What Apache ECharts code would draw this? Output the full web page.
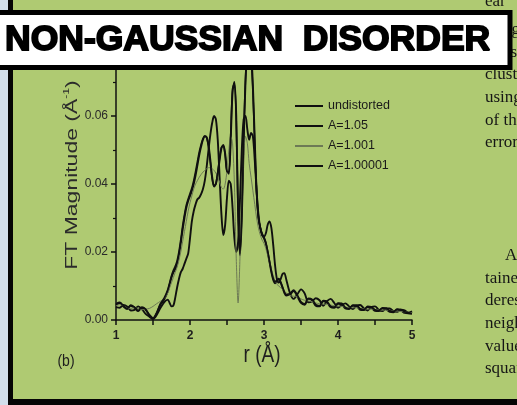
<!DOCTYPE html>
<html><head><meta charset="utf-8">
<script src="https://cdn.jsdelivr.net/npm/echarts@6/dist/echarts.min.js"></script>
<style>html,body{margin:0;padding:0;background:#afca72;}#c{width:517px;height:405px;}</style>
</head><body><div id="c"></div>
<script>
// r (Å) sample positions
const r = [1.00,1.05,1.10,1.15,1.20,1.25,1.30,1.35,1.40,1.45,1.50,1.55,1.60,1.65,1.70,
1.725,1.75,1.775,1.80,1.825,1.85,1.875,1.90,1.925,1.95,1.975,2.00,2.025,2.05,2.075,2.10,
2.125,2.15,2.175,2.20,2.225,2.25,2.275,2.30,2.325,2.35,2.375,2.40,2.425,2.45,2.475,2.50,
2.525,2.55,2.575,2.60,2.625,2.65,2.675,2.70,2.725,2.75,2.775,2.80,2.825,2.85,2.875,2.90,
2.925,2.95,2.975,3.00,3.025,3.05,3.075,3.10,3.125,3.15,3.175,3.20,3.225,3.25,3.275,3.30,
3.35,3.40,3.45,3.50,3.55,3.60,3.65,3.70,3.75,3.80,3.85,3.90,3.95,4.00,4.05,4.10,4.15,
4.20,4.25,4.30,4.35,4.40,4.45,4.50,4.55,4.60,4.65,4.70,4.75,4.80,4.85,4.90,4.95,5.00];

const undistorted = [0.0045,0.0050,0.0040,0.0032,0.0042,0.0036,0.0026,0.0036,0.0030,0.0014,0.0004,0.0020,0.0045,0.0060,0.0085,
0.0105,0.0125,0.0140,0.0150,0.0165,0.0190,0.0225,0.0265,0.0300,0.0330,0.0350,0.0365,0.0380,0.0400,0.0425,0.0455,
0.0485,0.0510,0.0530,0.0540,0.0538,0.0515,0.0470,0.0420,0.0395,0.0400,0.0430,0.0470,0.0505,0.0515,0.0490,0.0440,
0.0430,0.0530,0.0670,0.0700,0.0600,0.0320,0.0190,0.0300,0.0520,0.0700,0.0790,0.0820,0.0790,0.0690,0.0530,0.0380,
0.0300,0.0270,0.0250,0.0240,0.0225,0.0200,0.0170,0.0140,0.0118,0.0108,0.0115,0.0120,0.0110,0.0095,0.0080,0.0072,
0.0075,0.0085,0.0070,0.0050,0.0045,0.0062,0.0058,0.0042,0.0040,0.0055,0.0052,0.0038,0.0036,0.0048,0.0046,0.0034,0.0032,
0.0042,0.0041,0.0030,0.0029,0.0038,0.0036,0.0027,0.0026,0.0034,0.0032,0.0024,0.0023,0.0030,0.0028,0.0021,0.0020,0.0024];

const a105 = [0.0038,0.0036,0.0044,0.0040,0.0028,0.0030,0.0040,0.0032,0.0018,0.0010,0.0003,0.0015,0.0035,0.0052,0.0060,
0.0050,0.0040,0.0042,0.0065,0.0095,0.0120,0.0140,0.0150,0.0165,0.0180,0.0195,0.0240,0.0290,0.0320,0.0340,0.0355,
0.0360,0.0370,0.0385,0.0410,0.0450,0.0500,0.0545,0.0580,0.0600,0.0590,0.0530,0.0420,0.0310,0.0250,0.0280,0.0360,
0.0410,0.0400,0.0330,0.0240,0.0200,0.0230,0.0350,0.0500,0.0590,0.0600,0.0560,0.0530,0.0550,0.0540,0.0470,0.0380,
0.0310,0.0270,0.0250,0.0245,0.0255,0.0280,0.0290,0.0270,0.0220,0.0160,0.0120,0.0110,0.0120,0.0135,0.0138,0.0120,
0.0080,0.0062,0.0075,0.0090,0.0078,0.0052,0.0055,0.0064,0.0058,0.0042,0.0055,0.0062,0.0050,0.0036,0.0044,0.0049,0.0040,
0.0032,0.0042,0.0044,0.0034,0.0028,0.0038,0.0040,0.0030,0.0026,0.0034,0.0034,0.0026,0.0024,0.0030,0.0028,0.0020,0.0018];

const a1001 = [0.0042,0.0045,0.0042,0.0036,0.0034,0.0036,0.0034,0.0030,0.0032,0.0034,0.0040,0.0048,0.0055,0.0062,0.0080,
0.0095,0.0110,0.0125,0.0140,0.0155,0.0175,0.0200,0.0230,0.0260,0.0290,0.0320,0.0345,0.0365,0.0385,0.0400,0.0410,
0.0420,0.0428,0.0435,0.0440,0.0445,0.0448,0.0448,0.0445,0.0440,0.0432,0.0420,0.0405,0.0390,0.0385,0.0400,0.0440,
0.0500,0.0540,0.0520,0.0400,0.0180,0.0050,0.0180,0.0350,0.0480,0.0540,0.0520,0.0460,0.0420,0.0380,0.0340,0.0300,
0.0270,0.0250,0.0235,0.0225,0.0210,0.0190,0.0170,0.0150,0.0130,0.0115,0.0105,0.0100,0.0095,0.0090,0.0085,0.0080,
0.0072,0.0070,0.0068,0.0062,0.0058,0.0056,0.0054,0.0050,0.0048,0.0047,0.0046,0.0044,0.0042,0.0041,0.0040,0.0038,0.0037,
0.0036,0.0036,0.0034,0.0033,0.0032,0.0032,0.0031,0.0030,0.0029,0.0029,0.0028,0.0027,0.0026,0.0025,0.0024,0.0023,0.0022];

const a100001 = [0.0048,0.0052,0.0042,0.0034,0.0044,0.0038,0.0028,0.0038,0.0032,0.0016,0.0006,0.0022,0.0048,0.0064,0.0090,
0.0110,0.0130,0.0146,0.0158,0.0174,0.0200,0.0236,0.0276,0.0310,0.0338,0.0356,0.0372,0.0388,0.0410,0.0436,0.0466,
0.0494,0.0516,0.0534,0.0542,0.0536,0.0508,0.0462,0.0414,0.0392,0.0402,0.0436,0.0476,0.0508,0.0512,0.0484,0.0436,
0.0436,0.0545,0.0680,0.0695,0.0585,0.0310,0.0195,0.0315,0.0535,0.0710,0.0795,0.0815,0.0775,0.0670,0.0515,0.0375,
0.0300,0.0272,0.0254,0.0244,0.0228,0.0202,0.0172,0.0144,0.0122,0.0112,0.0118,0.0122,0.0112,0.0098,0.0083,0.0075,
0.0078,0.0088,0.0074,0.0054,0.0048,0.0064,0.0061,0.0045,0.0042,0.0057,0.0055,0.0041,0.0038,0.0050,0.0049,0.0037,0.0034,
0.0044,0.0044,0.0033,0.0031,0.0040,0.0039,0.0030,0.0028,0.0036,0.0035,0.0027,0.0025,0.0032,0.0031,0.0024,0.0022,0.0026];

const seriesNames = ['undistorted','A=1.05','A=1.001','A=1.00001'];
const xTicks = [1,2,3,4,5];
const yTicks = [0.00,0.02,0.04,0.06];
const titleText = 'NON-GAUSSIAN  DISORDER';
const sideText = ['ear','lying','lines','clusters','using','of the','errors','','','','','An','tained','deres','neigh','values','square'];

const chart = echarts.init(document.getElementById('c'), null, {renderer:'canvas'});
const pairs = v => r.map((x,i)=>[x, v[i]]);
const BLACK = '#101010', GRAY = '#6d7a55';
function lineSeries(name, vals, color, w){
  return {type:'line', name, data:pairs(vals), symbol:'none', smooth:0.3, clip:true,
    lineStyle:{color, width:w}, itemStyle:{color}, z:3};
}

const graphics = [
  {type:'rect', shape:{x:0,y:0,width:8,height:405}, style:{fill:'#d2deeb'}, z:50},
  {type:'rect', shape:{x:8,y:0,width:5,height:405}, style:{fill:'#050505'}, z:51},
  {type:'rect', shape:{x:8,y:399,width:509,height:6}, style:{fill:'#050505'}, z:51},
  // y axis name
  {type:'text', x:72, y:175, rotation:Math.PI/2, scaleX:1.35, z:40,
    style:{text:'FT Magnitude (Å{sup|-1})', fontFamily:'Liberation Sans, Arial', fontSize:17, fill:'#2b2b2b',
      align:'center', verticalAlign:'middle', lineHeight:20,
      rich:{sup:{fontSize:9, verticalAlign:'top', lineHeight:20, fill:'#2b2b2b', fontFamily:'Liberation Sans, Arial'}}}},
  {type:'text', x:262, y:355, scaleY:1.25, z:40,
    style:{text:'r (Å)', fontFamily:'Liberation Sans, Arial', fontSize:19, fill:'#1e1e1e', align:'center', verticalAlign:'middle'}},
  {type:'text', x:66, y:362, scaleY:1.15, z:40,
    style:{text:'(b)', fontFamily:'Liberation Sans, Arial', fontSize:14, fill:'#1e1e1e', align:'center', verticalAlign:'middle'}},
];
sideText.forEach((t,i)=>{
  if(!t) return;
  graphics.push({type:'text', x:(t==='An'?505:485), y:(i===0?2:7.2+22.6*i), z:40,
    style:{text:t, fontFamily:'Liberation Serif, Times New Roman', fontSize:17, fill:'#161616', align:'left', verticalAlign:'middle'}});
});
graphics.push(
  {type:'rect', shape:{x:-10,y:12.5,width:520,height:55}, style:{fill:'#ffffff', stroke:'#000', lineWidth:5}, z:100},
  {type:'text', x:5, y:40, z:101,
    style:{text:titleText, fontFamily:'Liberation Sans, Arial', fontWeight:'bold', fontSize:35.5, fill:'#000', stroke:'#000', lineWidth:1.8,
      align:'left', verticalAlign:'middle'}}
);

chart.setOption({
  animation:false,
  backgroundColor:'#afca72',
  grid:{left:116, right:105, top:48, bottom:85, containLabel:false},
  legend:{orient:'vertical', left:290, top:94, itemWidth:28, itemHeight:2, itemGap:6, icon:'rect',
    data:seriesNames, textStyle:{fontFamily:'Liberation Sans, Arial', fontSize:12.5, color:'#1a1a1a', lineHeight:14}},
  xAxis:{type:'value', min:1, max:5, interval:1,
    axisLine:{lineStyle:{color:'#111', width:1.5}},
    axisTick:{show:true, length:5, lineStyle:{color:'#111', width:1.5}},
    minorTick:{show:true, splitNumber:2, length:5, lineStyle:{color:'#111', width:1.5}},
    splitLine:{show:false},
    axisLabel:{margin:10, fontFamily:'Liberation Sans, Arial', fontWeight:'bold', fontSize:12, color:'#1e1e1e',
      formatter:v=> xTicks.includes(v)? String(v):''}},
  yAxis:{type:'value', min:0, max:0.08, interval:0.02,
    axisLine:{show:true, lineStyle:{color:'#111', width:1.5}},
    axisTick:{show:true, length:5, lineStyle:{color:'#111', width:1.5}},
    minorTick:{show:true, splitNumber:2, length:3, lineStyle:{color:'#111', width:1.2}},
    splitLine:{show:false},
    axisLabel:{margin:8, fontFamily:'Liberation Sans, Arial', fontSize:12, color:'#2a2a2a',
      formatter:v=> yTicks.some(t=>Math.abs(t-v)<1e-9)? v.toFixed(2):''}},
  series:[
    lineSeries(seriesNames[0], undistorted, BLACK, 1.9),
    lineSeries(seriesNames[1], a105, BLACK, 1.9),
    lineSeries(seriesNames[2], a1001, GRAY, 1),
    lineSeries(seriesNames[3], a100001, BLACK, 1.6)
  ],
  graphic:graphics
});
</script></body></html>
